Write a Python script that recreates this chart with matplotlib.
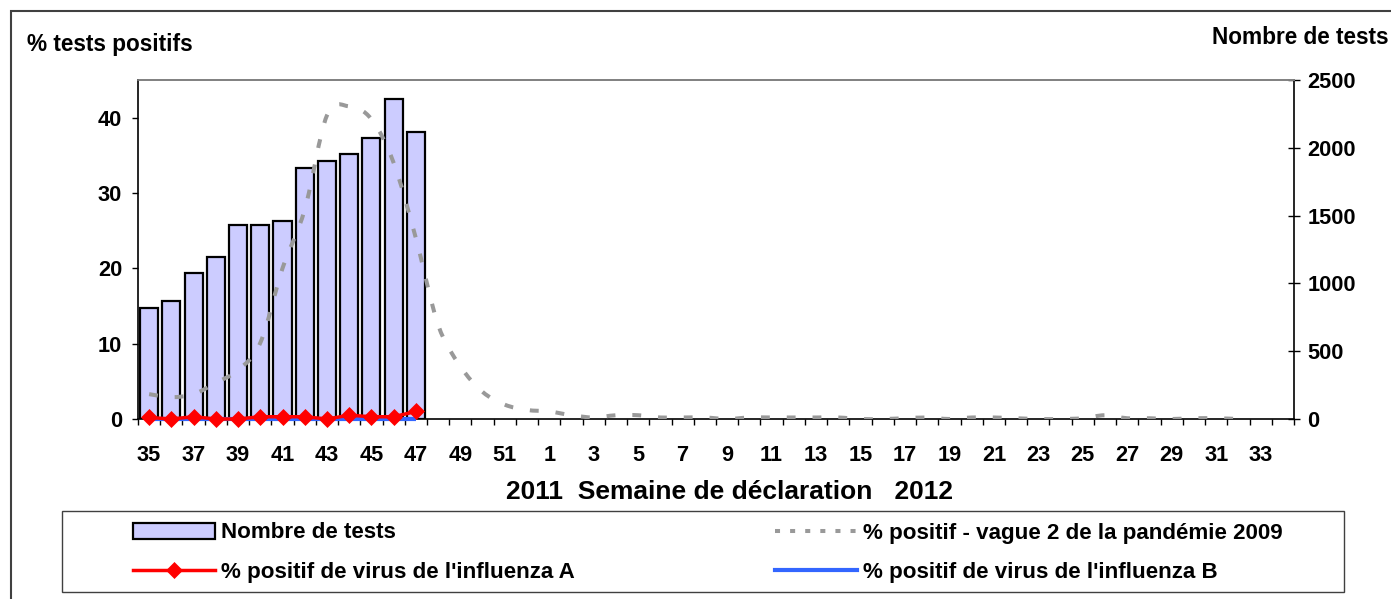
import matplotlib
matplotlib.use("Agg")
import matplotlib.pyplot as plt
import numpy as np
from matplotlib.path import Path
from matplotlib.patches import PathPatch, Rectangle
from matplotlib.lines import Line2D

# Weeks of declaration: 2011 (35-52) then 2012 (1-34)
weeks = [35, 36, 37, 38, 39, 40, 41, 42, 43, 44, 45, 46, 47, 48, 49, 50, 51, 52,
         1, 2, 3, 4, 5, 6, 7, 8, 9, 10, 11, 12, 13, 14, 15, 16, 17, 18, 19, 20,
         21, 22, 23, 24, 25, 26, 27, 28, 29, 30, 31, 32, 33, 34]

# Nombre de tests (right axis), weeks 35-47
nb_tests = [822, 872, 1077, 1192, 1429, 1429, 1463, 1850, 1899, 1951, 2069, 2358, 2119]

# % positif influenza A / B, weeks 35-47
pct_a = [0.2, 0.0, 0.3, 0.0, 0.0, 0.3, 0.3, 0.3, 0.0, 0.5, 0.3, 0.3, 1.0]
pct_b = [0.0, 0.0, 0.0, 0.0, 0.0, 0.0, 0.0, 0.0, 0.0, 0.0, 0.0, 0.0, 0.0]

# % positif - vague 2 de la pandemie 2009, weeks 35 -> 32
pct_2009 = [3.3, 2.9, 3.3, 4.8, 6.5, 10.1, 20.0, 27.8, 40.3, 41.5, 39.8, 34.0, 24.0,
            12.5, 7.0, 3.6, 1.9, 1.2, 1.0, 0.5, 0.2, 0.5, 0.5, 0.2, 0.2, 0.2, 0.0,
            0.2, 0.2, 0.2, 0.2, 0.2, 0.0, 0.0, 0.1, 0.2, 0.0, 0.2, 0.2, 0.1, 0.0,
            0.0, 0.1, 0.5, 0.1, 0.1, 0.0, 0.1, 0.1, 0.0]

W, H = 1391, 599
FS = 16.1      # titles / legend
TFS = 15.7     # tick labels
plt.rcParams['font.family'] = ['Liberation Sans', 'DejaVu Sans']
plt.rcParams['font.weight'] = 'bold'


def smooth_path(xs, ys):
    # Excel-like smoothed line (Catmull-Rom as cubic Bezier)
    verts = [(xs[0], ys[0])]
    codes = [Path.MOVETO]
    n = len(xs)
    for i in range(n - 1):
        p0 = (xs[i - 1], ys[i - 1]) if i > 0 else (xs[i], ys[i])
        p1 = (xs[i], ys[i])
        p2 = (xs[i + 1], ys[i + 1])
        p3 = (xs[i + 2], ys[i + 2]) if i + 2 < n else p2
        c1 = (p1[0] + (p2[0] - p0[0]) / 6, p1[1] + (p2[1] - p0[1]) / 6)
        c2 = (p2[0] - (p3[0] - p1[0]) / 6, p2[1] - (p3[1] - p1[1]) / 6)
        verts += [c1, c2, p2]
        codes += [Path.CURVE4] * 3
    return Path(verts, codes)


fig = plt.figure(figsize=(W / 100, H / 100), dpi=100)
ax = fig.add_axes([138 / W, 1 - 419 / H, (1294 - 138) / W, (419 - 80) / H])
ax2 = ax.twinx()
ax.set_zorder(ax2.get_zorder() + 1)
ax.patch.set_visible(False)

x_all = np.arange(len(weeks))

# bars on the right axis
bars = ax2.bar(x_all[:len(nb_tests)], nb_tests, width=0.81, color='#CCCCFF',
               edgecolor='black', linewidth=1.6, zorder=2)

# smoothed dashed pandemic curve
xg = x_all[:len(pct_2009)]
curve = PathPatch(smooth_path(list(xg), pct_2009), fill=False, edgecolor='#999999',
                  linewidth=2.9, linestyle=(0, (2.2, 4.2)), capstyle='butt', zorder=3)
ax.add_patch(curve)

ax.plot(x_all[:len(pct_b)], pct_b, color='#3366FF', lw=3, zorder=4, clip_on=False,
        solid_capstyle='butt')
ax.plot(x_all[:len(pct_a)], pct_a, color='#FF0000', lw=2.5, marker='D', ms=8.5,
        mec='#FF0000', mew=0.5, zorder=5, clip_on=False)

ax.set_xlim(-0.5, len(weeks) - 0.5)
ax.set_ylim(0, 45)
ax2.set_ylim(0, 2500)
ax.set_yticks([0, 10, 20, 30, 40])
ax2.set_yticks([0, 500, 1000, 1500, 2000, 2500])

ax.set_xticks(x_all[::2])
ax.set_xticklabels([str(w) for w in weeks[::2]])
ax.set_xticks(np.arange(-0.5, len(weeks), 1), minor=True)
ax.tick_params(axis='x', which='major', length=0, pad=19, labelsize=TFS)
ax.tick_params(axis='x', which='minor', length=4.3, width=1, direction='out')
ax.tick_params(axis='y', length=4.3, width=1, direction='out', pad=7.2, labelsize=TFS)
ax2.tick_params(axis='y', length=8.6, width=1, direction='inout', pad=5.5, labelsize=TFS)

for a in (ax, ax2):
    a.spines['top'].set_color('#808080')
    a.spines['top'].set_linewidth(1.2)
for s in ('left', 'bottom'):
    ax.spines[s].set_linewidth(1.2)
    ax2.spines[s].set_visible(False)
ax.spines['right'].set_visible(False)
ax2.spines['right'].set_linewidth(1.2)

# axis titles
fig.text(27 / W, 1 - 45 / H, "% tests positifs", ha='left', va='center',
         fontsize=16.3, weight='bold')
fig.text(1388 / W, 1 - 38 / H, "Nombre de tests", ha='right', va='center',
         fontsize=16.3, weight='bold')
fig.text(729 / W, 1 - 492 / H, "2011  Semaine de déclaration   2012", ha='center',
         va='center', fontsize=19, weight='bold')

# outer frame and legend box
fig.add_artist(Rectangle((11 / W, -0.1), 1.2, 1.1 - 11 / H, transform=fig.transFigure,
                         fill=False, edgecolor='#404040', linewidth=1.5))
fig.add_artist(Rectangle((62 / W, 1 - 592 / H), (1344 - 62) / W, (592 - 511) / H,
                         transform=fig.transFigure, fill=False, edgecolor='#404040',
                         linewidth=1))

h_bar = bars
h_red = Line2D([], [], color='#FF0000', lw=2.5, marker='D', ms=8.5, mec='#FF0000', mew=0.5)
h_grey = Line2D([], [], color='#999999', lw=2.9, linestyle=(0, (1.25, 2.5)))
h_blue = Line2D([], [], color='#3366FF', lw=3)

leg_kw = dict(loc='upper left', bbox_transform=fig.transFigure, frameon=False,
              borderpad=0, borderaxespad=0, handlelength=3.65, handletextpad=0.27,
              labelspacing=0.82, fontsize=FS, numpoints=1)
fig.legend([h_bar, h_red], ["Nombre de tests", "% positif de virus de l'influenza A"],
           bbox_to_anchor=(133 / W, 1 - 522.5 / H), **leg_kw)
fig.legend([h_grey, h_blue], ["% positif - vague 2 de la pandémie 2009",
                              "% positif de virus de l'influenza B"],
           bbox_to_anchor=(775 / W, 1 - 522.5 / H), **leg_kw)

fig.savefig("out.png", dpi=100)
